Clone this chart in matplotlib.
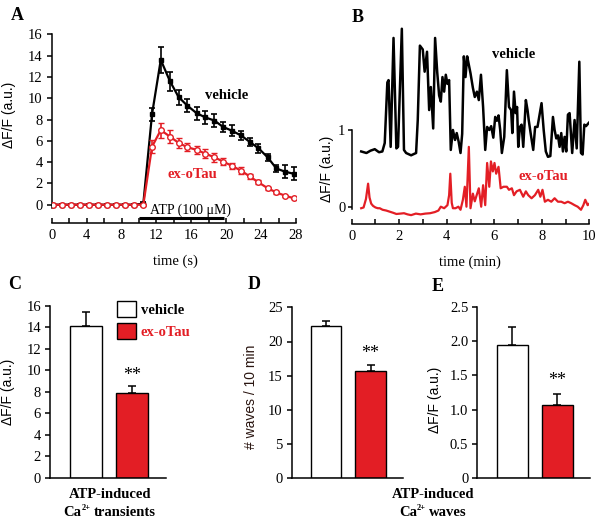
import matplotlib
matplotlib.use("Agg")
import matplotlib.pyplot as plt
from matplotlib.ticker import MultipleLocator

plt.rcParams["font.family"] = "serif"
plt.rcParams["font.serif"] = ["Liberation Serif", "DejaVu Serif"]
plt.rcParams["axes.linewidth"] = 1.1

RED = "#e31e25"
SANS = ["Liberation Sans", "DejaVu Sans"]

# --- panel A: ATP (100 uM) evoked transients, mean +/- sem
time_s = [0.1, 1.15, 2.2, 3.2, 4.25, 5.3, 6.35, 7.35, 8.4, 9.45,
          10.5, 11.5, 12.5, 13.55, 14.55, 15.55, 16.6, 17.6, 18.65, 19.65,
          20.65, 21.7, 22.7, 23.7, 24.75, 25.75, 26.75, 27.75]
veh_mean = [0.0, 0.0, 0.0, 0.0, 0.0, 0.0, 0.0, 0.0, 0.0, 0.0,
            0.1, 8.5, 13.6, 11.6, 10.1, 9.3, 8.6, 8.2, 7.9, 7.3,
            6.95, 6.5, 5.9, 5.3, 4.45, 3.4, 3.1, 2.9]
veh_sem = [0.1, 0.1, 0.1, 0.1, 0.1, 0.1, 0.1, 0.1, 0.1, 0.1,
           0.2, 0.6, 1.2, 0.9, 0.7, 0.6, 0.6, 0.6, 0.6, 0.5,
           0.5, 0.4, 0.4, 0.4, 0.3, 0.3, 0.6, 0.6]
tau_mean = [0.0, 0.0, 0.0, 0.0, 0.0, 0.0, 0.0, 0.0, 0.0, 0.0,
            0.0, 5.45, 7.0, 6.4, 5.8, 5.4, 5.15, 4.8, 4.45, 4.05,
            3.65, 3.2, 2.65, 2.1, 1.55, 1.15, 0.85, 0.6]
tau_sem = [0.1, 0.1, 0.1, 0.1, 0.1, 0.1, 0.1, 0.1, 0.1, 0.1,
           0.1, 0.6, 0.7, 0.6, 0.5, 0.4, 0.4, 0.4, 0.4, 0.3,
           0.3, 0.3, 0.2, 0.2, 0.15, 0.1, 0.1, 0.1]

# --- panel B: example traces (min, dF/F)
veh_trace_t = [0.40, 0.62, 0.79, 0.97, 1.15, 1.29, 1.39, 1.50, 1.55, 1.64,
               1.76, 1.88, 1.95, 2.11, 2.20, 2.29, 2.50, 2.71, 2.78, 2.87,
               2.99, 3.07, 3.17, 3.26, 3.33, 3.43, 3.51, 3.60, 3.68, 3.75,
               3.82, 3.89, 3.96, 4.03, 4.10, 4.17, 4.26, 4.35, 4.42, 4.50,
               4.58, 4.65, 4.72, 4.79, 4.86, 4.93, 5.00, 5.10, 5.18, 5.27,
               5.35, 5.44, 5.53, 5.62, 5.70, 5.79, 5.87, 5.96, 6.04, 6.11,
               6.18, 6.25, 6.32, 6.42, 6.53, 6.62, 6.71, 6.76, 6.83, 6.90,
               6.96, 7.01, 7.08, 7.15, 7.22, 7.33, 7.40, 7.45, 7.53, 7.64,
               7.72, 7.82, 7.99, 8.08, 8.17, 8.26, 8.36, 8.47, 8.54, 8.61,
               8.68, 8.75, 8.82, 8.89, 8.96, 9.03, 9.10, 9.17, 9.28, 9.38,
               9.47, 9.58, 9.65, 9.72, 9.79, 9.86, 9.97, 10.0]
veh_trace_v = [0.72, 0.70, 0.73, 0.75, 0.71, 0.72, 0.83, 1.62, 1.65, 0.78,
               2.20, 0.76, 0.78, 2.32, 0.74, 0.70, 0.67, 0.70, 1.13, 2.10,
               2.05, 1.76, 2.02, 1.26, 1.56, 1.02, 2.20, 1.75, 1.45, 1.37,
               1.69, 1.50, 1.72, 1.60, 1.65, 0.74, 1.00, 0.87, 0.96, 0.85,
               0.70, 0.95, 1.96, 1.69, 1.96, 1.85, 1.74, 1.55, 1.43, 1.50,
               1.39, 1.72, 1.30, 0.74, 1.04, 1.00, 1.05, 0.90, 1.17, 1.12,
               1.19, 1.00, 0.70, 0.91, 1.78, 1.30, 1.26, 0.96, 1.50, 1.22,
               1.30, 0.78, 1.04, 1.07, 0.78, 1.39, 1.26, 1.13, 0.96, 0.74,
               1.04, 1.04, 1.35, 1.00, 0.72, 0.65, 0.66, 1.17, 1.00, 0.89,
               0.93, 0.78, 0.96, 0.72, 0.91, 0.72, 1.20, 1.22, 0.70, 1.13,
               0.76, 1.89, 0.70, 0.68, 1.07, 1.05, 1.09, 1.10]
tau_trace_t = [0.40, 0.50, 0.60, 0.69, 0.75, 0.82, 0.90, 1.00, 1.10, 1.18,
               1.30, 1.45, 1.60, 1.75, 1.88, 2.05, 2.20, 2.35, 2.50, 2.70,
               2.90, 3.10, 3.30, 3.50, 3.65, 3.75, 3.89, 4.03, 4.10, 4.15,
               4.21, 4.26, 4.37, 4.49, 4.58, 4.68, 4.76, 4.83, 4.93, 5.00,
               5.10, 5.18, 5.28, 5.35, 5.45, 5.53, 5.62, 5.70, 5.79, 5.86,
               5.94, 6.01, 6.08, 6.18, 6.27, 6.39, 6.53, 6.62, 6.74, 6.83,
               6.94, 7.08, 7.22, 7.33, 7.43, 7.57, 7.71, 7.85, 7.94, 8.03,
               8.13, 8.26, 8.40, 8.54, 8.68, 8.82, 8.96, 9.10, 9.24, 9.38,
               9.51, 9.65, 9.75, 9.83, 9.93, 10.00]
tau_trace_v = [-0.02, -0.01, 0.10, 0.30, 0.12, 0.04, 0.01, -0.01, -0.02, -0.02,
               -0.04, -0.05, -0.065, -0.08, -0.095, -0.09, -0.085, -0.10, -0.11, -0.09,
               -0.10, -0.09, -0.085, -0.07, -0.05, 0.00, -0.02, 0.02, 0.15, 0.43,
               0.05, -0.02, -0.02, 0.00, -0.04, 0.09, 0.26, 0.00, 0.78, -0.02,
               0.17, 0.07, 0.17, 0.24, 0.00, 0.28, 0.02, 0.57, 0.26, 0.59,
               0.46, 0.57, 0.43, 0.52, 0.24, 0.26, 0.26, 0.22, 0.24, 0.15,
               0.20, 0.22, 0.13, 0.20, 0.15, 0.11, 0.15, 0.22, 0.13, 0.22,
               0.065, 0.09, 0.065, 0.11, 0.065, 0.065, 0.045, 0.065, 0.045, 0.02,
               0.00, -0.04, 0.02, 0.09, 0.02, 0.04]

# --- panels C-E: summary bars
groups = ["vehicle", "ex-oTau"]
peak_mean = [14.1, 7.9]
peak_sem = [1.3, 0.65]
waves_mean = [22.2, 15.7]
waves_sem = [0.85, 0.9]
wave_amp_mean = [1.94, 1.06]
wave_amp_sem = [0.27, 0.17]

W, H = 600.0, 527.0


def px_axes(fig, left, top, right, bottom):
    # axes from pixel box of the reference
    return fig.add_axes([left / W, 1 - bottom / H, (right - left) / W, (bottom - top) / H])


def clean(ax):
    ax.spines["top"].set_visible(False)
    ax.spines["right"].set_visible(False)
    ax.tick_params(axis="y", direction="out", length=3.5, width=1.1, pad=3, labelsize=10.5)


fig = plt.figure(figsize=(6, 5.27), dpi=100)

# ---------------- A
axA = px_axes(fig, 51.7, 34.3, 296, 207.9)
clean(axA)
axA.errorbar(time_s, veh_mean, yerr=veh_sem, color="black", lw=1.6, marker="s", ms=2.5,
             capsize=2.5, capthick=1.2, elinewidth=1.2, zorder=2)
axA.errorbar(time_s, tau_mean, yerr=tau_sem, color=RED, lw=1.6, marker="o", ms=4,
             mfc="white", mec=RED, mew=1.0, capsize=2.5, capthick=1.2, elinewidth=1.2, zorder=3)
axA.set_xlim(0, 28)
axA.set_ylim(-0.3, 16)
axA.set_yticks(range(0, 17, 2))
axA.xaxis.set_major_locator(MultipleLocator(4))
axA.xaxis.set_minor_locator(MultipleLocator(2))
axA.spines["bottom"].set_position(("outward", 11))
axA.tick_params(axis="x", which="both", direction="in", length=3.5, width=1.1, pad=4, labelsize=10.5)
axA.set_ylabel("ΔF/F (a.u.)", family=SANS, fontsize=10)
axA.yaxis.set_label_coords(-0.147, 0.535)
axA.set_xlabel("time (s)", fontsize=10.5)
axA.xaxis.set_label_coords(0.505, -0.27)
axA.plot([10.0, 19.75], [-1.28, -1.28], color="black", lw=2.2, clip_on=False, solid_capstyle="butt")
axA.text(15.9, -0.5, "ATP (100 μM)", ha="center", va="center", fontsize=10, clip_on=False)
axA.text(20.0, 10.3, "vehicle", ha="center", va="center", fontsize=10.5, weight="bold")
axA.text(16.1, 2.8, "ex-oTau", ha="center", va="center", fontsize=10.5, weight="bold", color=RED)

# ---------------- B
axB = px_axes(fig, 351.7, 22.6, 589.3, 218.2)
clean(axB)
axB.plot(veh_trace_t, veh_trace_v, color="black", lw=1.8)
axB.plot(tau_trace_t, tau_trace_v, color=RED, lw=1.6)
axB.set_xlim(0, 10)
axB.set_ylim(-0.15, 2.4)
axB.set_yticks([0, 1])
axB.tick_params(axis="y", length=3, pad=1.5)
axB.spines["left"].set_bounds(-0.03, 1)
axB.xaxis.set_major_locator(MultipleLocator(2))
axB.xaxis.set_minor_locator(MultipleLocator(1))
axB.spines["bottom"].set_position(("outward", 4.5))
axB.tick_params(axis="x", which="both", direction="in", length=3.5, width=1.1, pad=4, labelsize=10.5)
axB.set_ylabel("ΔF/F (a.u.)", family=SANS, fontsize=10)
axB.yaxis.set_label_coords(-0.075, 0.25)
axB.set_xlabel("time (min)", fontsize=10.5)
axB.xaxis.set_label_coords(0.498, -0.19)
axB.text(6.8, 1.99, "vehicle", ha="center", va="center", fontsize=10.5, weight="bold")
axB.text(8.08, 0.39, "ex-oTau", ha="center", va="center", fontsize=10.5, weight="bold", color=RED)


# ---------------- C, D, E
def bar_panel(box, means, sems, ylim, yticks, stars_y):
    ax = px_axes(fig, *box)
    clean(ax)
    bars = ax.bar([0.31, 0.71], means, width=0.275, color=["white", RED],
                  edgecolor="black", linewidth=1.0, zorder=2)
    ax.errorbar([0.31, 0.71], means, yerr=[[0, 0], sems], fmt="none", ecolor="black",
                elinewidth=1.1, capsize=3, capthick=1.1, zorder=1)
    ax.set_xlim(0, 1)
    ax.set_ylim(*ylim)
    ax.set_yticks(yticks)
    ax.set_xticks([])
    ax.text(0.71, stars_y, "**", ha="center", va="center", fontsize=13)
    return ax, bars


axC, barsC = bar_panel((50, 306, 165.7, 477.7), peak_mean, peak_sem, (0, 16), range(0, 17, 2), 9.5)
axC.set_ylabel("ΔF/F (a.u.)", family=SANS, fontsize=10)
axC.yaxis.set_label_coords(-0.30, 0.5)
leg = axC.legend(barsC.patches, groups, loc="upper left", bbox_to_anchor=(116.7 / W, 1 - 301 / H),
                 bbox_transform=fig.transFigure, frameon=False, borderpad=0, borderaxespad=0,
                 handlelength=1.3, handleheight=1.3, handletextpad=0.35, labelspacing=0.4,
                 prop=dict(weight="bold", size=10.5))
leg.get_texts()[1].set_color(RED)

axD, barsD = bar_panel((291.7, 307.3, 402.7, 478.3), waves_mean, waves_sem, (0, 25), range(0, 26, 5), 18.2)
axD.set_ylabel("# waves / 10 min", family=SANS, fontsize=10, color="#2a1510")
axD.yaxis.set_label_coords(-0.306, 0.477)

axE, barsE = bar_panel((477.3, 307.3, 590, 477.7), wave_amp_mean, wave_amp_sem, (0, 2.5),
                       [0, 0.5, 1.0, 1.5, 2.0, 2.5], 1.43)
axE.set_yticklabels(["0", "0.5", "1.0", "1.5", "2.0", "2.5"])
axE.set_ylabel("ΔF/F (a.u.)", family=SANS, fontsize=10)
axE.yaxis.set_label_coords(-0.316, 0.456)


# bottom captions, with a small raised "2+"
def caption(xc, rest):
    fig.text(xc / W, 1 - 495 / H, "ATP-induced", ha="center", va="center", fontsize=10.5, weight="bold")
    r = fig.canvas.get_renderer()
    base_y = 1 - 516 / H
    parts = [fig.text(0, base_y, "Ca", va="baseline", fontsize=10.5, weight="bold"),
             fig.text(0, base_y + 6 / H, "2+", va="baseline", fontsize=6, weight="bold"),
             fig.text(0, base_y, rest, va="baseline", fontsize=10.5, weight="bold")]
    widths = [p.get_window_extent(r).width for p in parts]
    gap = 3.5
    left = xc - (sum(widths) + gap) / 2
    for i, (p, w) in enumerate(zip(parts, widths)):
        p.set_x(left / W)
        left += w + (gap if i == 1 else 0)


caption(110, "transients")
caption(433, "waves")

# panel letters
for letter, x, y in [("A", 11, 7), ("B", 352, 9), ("C", 8, 276), ("D", 248, 276), ("E", 432, 278)]:
    fig.text(x / W, 1 - y / H, letter, ha="left", va="top", fontsize=13, weight="bold")

fig.savefig("out.png", dpi=100)
